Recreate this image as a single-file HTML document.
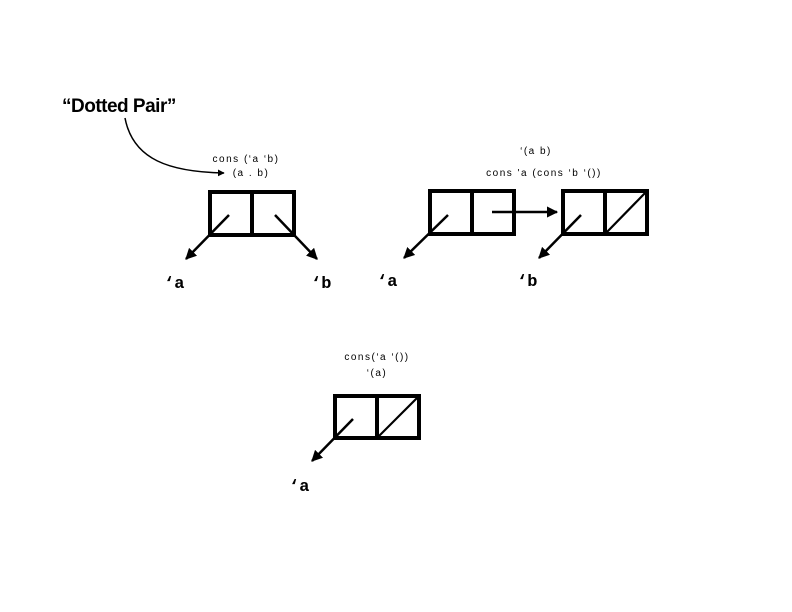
<!DOCTYPE html>
<html><head><meta charset="utf-8"><style>
body{margin:0;background:#fff}
svg{display:block}
.s{font-family:"Liberation Sans",sans-serif;font-size:10px;fill:#000;letter-spacing:1.5px}
.q{font-family:"Liberation Mono",monospace;font-size:17px;font-weight:bold;fill:#000}
</style></head><body>
<svg width="792" height="612" viewBox="0 0 792 612">
<defs><marker id="ah" viewBox="0 0 10 10" refX="9" refY="5" markerWidth="4.5" markerHeight="4.5" orient="auto"><path d="M0,0L10,5L0,10z" fill="#000"/></marker></defs>
<g>
<text x="62" y="112" font-family="Liberation Sans,sans-serif" font-weight="bold" font-size="19" letter-spacing="-0.5">“Dotted Pair”</text>
<path d="M125,118 C133,160 170,172 224,173" fill="none" stroke="#000" stroke-width="1.5" marker-end="url(#ah)"/>
</g>
<g fill="none" stroke="#000" stroke-width="4">
<rect x="210" y="192" width="84" height="43"/><line x1="252" y1="192" x2="252" y2="235"/>
<rect x="430" y="191" width="84" height="43"/><line x1="472" y1="191" x2="472" y2="234"/>
<rect x="563" y="191" width="84" height="43"/><line x1="605" y1="191" x2="605" y2="234"/>
<rect x="335" y="396" width="84" height="42"/><line x1="377" y1="396" x2="377" y2="438"/>
</g>
<g stroke="#000" stroke-width="2.2">
<line x1="606" y1="233" x2="646" y2="192"/><line x1="378" y1="437" x2="418" y2="397"/>
</g>
<g stroke="#000" stroke-width="2.5" marker-end="url(#ah)">
<line x1="229" y1="215" x2="186" y2="259"/>
<line x1="275" y1="215" x2="317" y2="259"/>
<line x1="448" y1="215" x2="404" y2="258"/>
<line x1="492" y1="212" x2="557" y2="212"/>
<line x1="581" y1="215" x2="539" y2="258"/>
<line x1="353" y1="419" x2="312" y2="461"/>
</g>
<g>
<text class="s" x="246" y="162" text-anchor="middle">cons (‘a ‘b)</text>
<text class="s" x="251" y="176" text-anchor="middle">(a . b)</text>
<text class="s" x="536" y="154" text-anchor="middle">‘(a b)</text>
<text class="s" x="544" y="176" text-anchor="middle">cons 'a (cons ‘b ‘())</text>
<text class="s" x="377" y="360" text-anchor="middle">cons(‘a ‘())</text>
<text class="s" x="377" y="376" text-anchor="middle">‘(a)</text>
<text class="q" x="164" y="288">‘a</text>
<text class="q" x="311" y="288">‘b</text>
<text class="q" x="377" y="286">‘a</text>
<text class="q" x="517" y="286">‘b</text>
<text class="q" x="289" y="491">‘a</text>
</g>
</svg>
</body></html>
